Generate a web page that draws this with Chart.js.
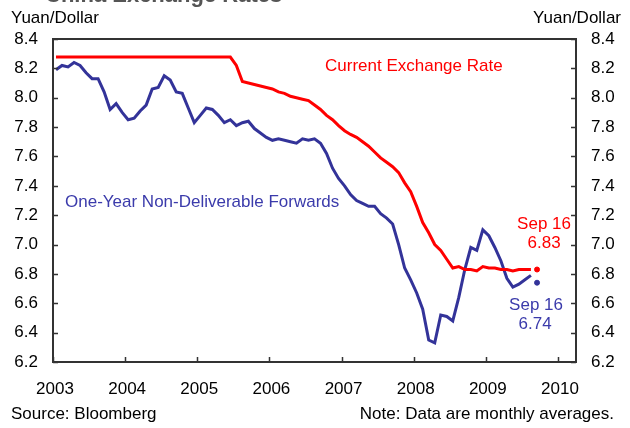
<!DOCTYPE html>
<html>
<head>
<meta charset="utf-8">
<script src="https://cdn.jsdelivr.net/npm/chart.js@4.4.1/dist/chart.umd.min.js"></script>
<style>
  html, body { margin: 0; padding: 0; background: #fff; }
</style>
</head>
<body>
<canvas id="fx" width="630" height="428"></canvas>
<script>
// monthly averages, Jan 2003 - Aug 2009 (yuan per dollar)
const startYear = 2003;
const spotRate = [
  8.277, 8.277, 8.277, 8.277, 8.277, 8.277, 8.277, 8.277, 8.277, 8.277,
  8.277, 8.277, 8.277, 8.277, 8.277, 8.277, 8.277, 8.277, 8.277, 8.277,
  8.277, 8.277, 8.277, 8.277, 8.277, 8.277, 8.277, 8.277, 8.277, 8.277,
  8.22, 8.11, 8.10, 8.09, 8.08, 8.07, 8.06, 8.04, 8.03, 8.01,
  8.00, 7.99, 7.98, 7.95, 7.92, 7.88, 7.85, 7.81, 7.775, 7.75,
  7.73, 7.70, 7.67, 7.63, 7.59, 7.56, 7.53, 7.49, 7.42, 7.36,
  7.26, 7.15, 7.08, 7.00, 6.96, 6.90, 6.84, 6.85, 6.83, 6.83,
  6.82, 6.85, 6.84, 6.84, 6.83, 6.83, 6.82, 6.83, 6.83, 6.83
];
const ndfRate = [
  8.19, 8.22, 8.21, 8.24, 8.22, 8.17, 8.13, 8.13, 8.04, 7.92,
  7.96, 7.90, 7.85, 7.86, 7.91, 7.95, 8.06, 8.07, 8.15, 8.12,
  8.04, 8.03, 7.93, 7.83, 7.88, 7.93, 7.92, 7.88, 7.83, 7.85,
  7.81, 7.83, 7.84, 7.79, 7.76, 7.73, 7.71, 7.72, 7.71, 7.70,
  7.69, 7.72, 7.71, 7.72, 7.69, 7.62, 7.52, 7.45, 7.40, 7.34,
  7.30, 7.28, 7.26, 7.26, 7.21, 7.18, 7.14, 7.00, 6.84, 6.76,
  6.67, 6.56, 6.35, 6.33, 6.52, 6.51, 6.48, 6.64, 6.83, 6.98,
  6.96, 7.10, 7.06, 6.98, 6.89, 6.77, 6.71, 6.73, 6.76, 6.79
];
// latest daily readings, Sep 16 2009
const sep16 = 2009.71;
const lastSpot = 6.83;
const lastNdf = 6.74;

const yearTicks = [2003, 2004, 2005, 2006, 2007, 2008, 2009, 2010];
const rateTicks = [6.2, 6.4, 6.6, 6.8, 7.0, 7.2, 7.4, 7.6, 7.8, 8.0, 8.2, 8.4];

const RED = '#ff0000';
const BLUE = '#333399';
const BLUE_TEXT = '#3b3bab';
const FONT = '"Liberation Sans", Arial, sans-serif';

Chart.defaults.font.family = FONT;
Chart.defaults.color = '#000';

const toPoints = arr => arr.map((v, i) => ({ x: startYear + (i + 0.5) / 12, y: v }));

// box round the plot plus inward tick marks
const framePlugin = {
  id: 'frame',
  afterDraw(chart) {
    const { ctx, chartArea: a, scales } = chart;
    ctx.save();
    ctx.strokeStyle = '#333';
    ctx.lineWidth = 2;
    ctx.strokeRect(a.left, a.top, a.right - a.left, a.bottom - a.top);
    ctx.lineWidth = 1.5;
    ctx.beginPath();
    rateTicks.forEach(v => {
      const y = Math.round(scales.y.getPixelForValue(v)) + 0.5;
      ctx.moveTo(a.left, y); ctx.lineTo(a.left + 5, y);
      ctx.moveTo(a.right, y); ctx.lineTo(a.right - 5, y);
    });
    yearTicks.forEach(v => {
      const x = Math.round(scales.x.getPixelForValue(v)) + 0.5;
      ctx.moveTo(x, a.bottom); ctx.lineTo(x, a.bottom - 5);
    });
    ctx.stroke();
    ctx.restore();
  }
};

// unit captions, series names, latest-value notes and footer
const notesPlugin = {
  id: 'notes',
  afterDraw(chart) {
    const { ctx, scales } = chart;
    const xs = scales.x, ys = scales.y;
    ctx.save();
    ctx.textBaseline = 'middle';

    ctx.font = 'bold 22px ' + FONT;
    ctx.fillStyle = '#555';
    ctx.textAlign = 'left';
    ctx.fillText('China Exchange Rates', 45, -4);

    ctx.font = '17px ' + FONT;
    ctx.fillStyle = '#000';
    ctx.fillText('Yuan/Dollar', 11, 18);
    ctx.textAlign = 'right';
    ctx.fillText('Yuan/Dollar', 621, 18);

    ctx.textAlign = 'left';
    ctx.fillStyle = RED;
    ctx.fillText('Current Exchange Rate', 325, 66);
    ctx.fillStyle = BLUE_TEXT;
    ctx.fillText('One-Year Non-Deliverable Forwards', 65, 202);

    const px = xs.getPixelForValue(sep16);
    ctx.textAlign = 'center';
    ctx.fillStyle = RED;
    ctx.fillText('Sep 16', px + 7, ys.getPixelForValue(lastSpot) - 45);
    ctx.fillText('6.83', px + 7, ys.getPixelForValue(lastSpot) - 26);
    ctx.fillStyle = BLUE_TEXT;
    ctx.fillText('Sep 16', px - 1, ys.getPixelForValue(lastNdf) + 23);
    ctx.fillText('6.74', px - 2, ys.getPixelForValue(lastNdf) + 42);

    ctx.fillStyle = '#000';
    ctx.textAlign = 'left';
    ctx.fillText('Source: Bloomberg', 11, 414);
    ctx.textAlign = 'right';
    ctx.fillText('Note: Data are monthly averages.', 614, 414);
    ctx.restore();
  }
};

const rateAxis = (position, width) => ({
  type: 'linear',
  position: position,
  min: 6.2,
  max: 8.4,
  grid: { display: false, drawTicks: false },
  border: { display: false },
  afterBuildTicks: s => { s.ticks = rateTicks.map(v => ({ value: v })); },
  afterFit: s => { s.width = width; },
  ticks: {
    padding: 15,
    font: { size: 17 },
    color: '#000',
    callback: v => v.toFixed(1)
  }
});

new Chart(document.getElementById('fx'), {
  type: 'line',
  data: {
    datasets: [
      {
        label: 'Current Exchange Rate',
        data: toPoints(spotRate),
        borderColor: RED,
        borderWidth: 3,
        pointRadius: 0,
        tension: 0
      },
      {
        label: 'One-Year Non-Deliverable Forwards',
        data: toPoints(ndfRate),
        borderColor: BLUE,
        borderWidth: 3,
        pointRadius: 0,
        tension: 0
      },
      {
        label: 'Sep 16 spot',
        data: [{ x: sep16, y: lastSpot }],
        showLine: false,
        pointRadius: 2.5,
        pointBackgroundColor: RED,
        pointBorderColor: RED
      },
      {
        label: 'Sep 16 forward',
        data: [{ x: sep16, y: lastNdf }],
        showLine: false,
        pointRadius: 2.5,
        pointBackgroundColor: BLUE,
        pointBorderColor: BLUE
      }
    ]
  },
  options: {
    responsive: false,
    animation: false,
    devicePixelRatio: 1,
    layout: { padding: { top: 39, left: 0, right: 0, bottom: 0 } },
    plugins: {
      legend: { display: false },
      tooltip: { enabled: false }
    },
    scales: {
      x: {
        type: 'linear',
        min: 2003,
        max: 2010.25,
        grid: { display: false, drawTicks: false },
        border: { display: false },
        afterBuildTicks: s => { s.ticks = yearTicks.map(v => ({ value: v })); },
        afterFit: s => { s.height = 66; },
        ticks: {
          padding: 17,
          labelOffset: 2,
          maxRotation: 0,
          font: { size: 17 },
          color: '#000',
          callback: v => String(v)
        }
      },
      y: rateAxis('left', 53),
      y2: rateAxis('right', 54)
    }
  },
  plugins: [framePlugin, notesPlugin]
});
</script>
</body>
</html>
